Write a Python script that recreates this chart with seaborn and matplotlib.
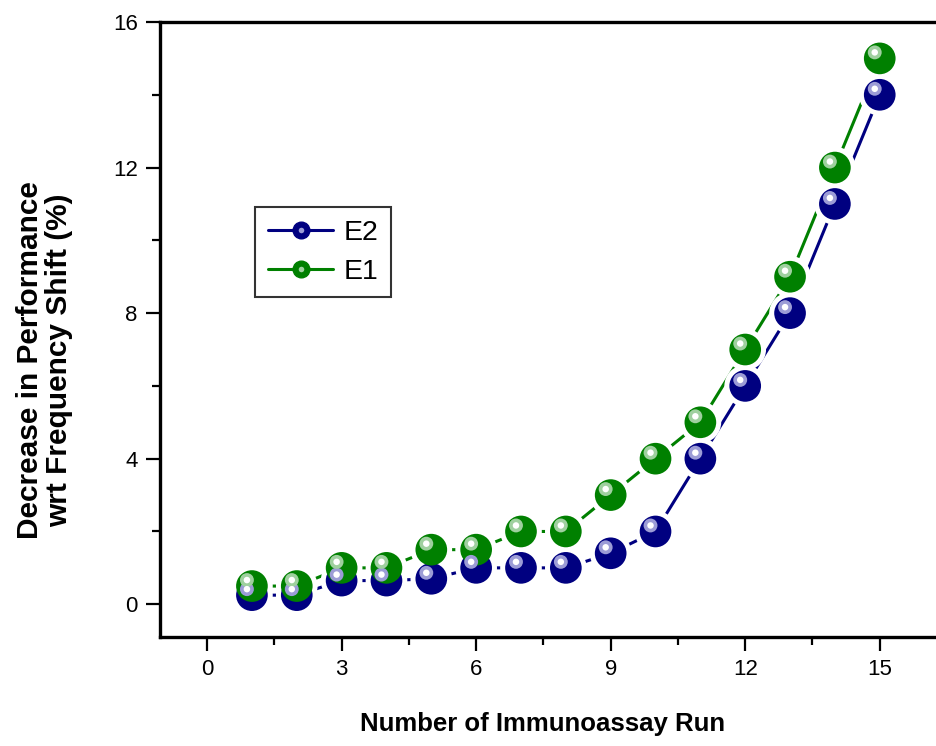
import pandas as pd
import matplotlib.pyplot as plt
import matplotlib.transforms as mtransforms
from matplotlib.lines import Line2D
from matplotlib.ticker import MultipleLocator
import seaborn as sns

# Data
runs = list(range(1, 16))
e2_shift = [0.25, 0.25, 0.65, 0.65, 0.7, 1.0, 1.0, 1.0, 1.4, 2.0, 4.0, 6.0, 8.0, 11.0, 14.0]
e1_shift = [0.5, 0.5, 1.0, 1.0, 1.5, 1.5, 2.0, 2.0, 3.0, 4.0, 5.0, 7.0, 9.0, 12.0, 15.0]
series_names = ['E2', 'E1']
series_colors = {'E2': '#000080', 'E1': '#008000'}
highlight_colors = {'E2': '#9c9cd6', 'E1': '#9fd09f'}

df = pd.DataFrame({
    'run': runs * 2,
    'shift': e2_shift + e1_shift,
    'series': ['E2'] * len(runs) + ['E1'] * len(runs),
})

sns.set_style('ticks')
plt.rcParams['font.family'] = ['Liberation Sans', 'DejaVu Sans']
plt.rcParams['text.color'] = 'black'
plt.rcParams['xtick.color'] = 'black'
plt.rcParams['ytick.color'] = 'black'
plt.rcParams['axes.labelcolor'] = 'black'

fig = plt.figure(figsize=(9.37, 7.46), dpi=100)
# right edge of the frame lies outside the picture, as in the reference
ax = fig.add_axes([160 / 937, 109 / 746, 787 / 937, 615 / 746])

# connecting lines
sns.lineplot(data=df, x='run', y='shift', hue='series', palette=series_colors,
             hue_order=series_names, linewidth=2.2, legend=False, ax=ax, zorder=1)

# white halo so lines stop short of the balls
sns.scatterplot(data=df, x='run', y='shift', color='white', s=900,
                edgecolor='none', legend=False, ax=ax, zorder=2)

# the balls with a glossy spot
shine = mtransforms.offset_copy(ax.transData, fig=fig, x=-5, y=6, units='dots')
for name in series_names:
    sub = df[df['series'] == name]
    sns.scatterplot(data=sub, x='run', y='shift', color=series_colors[name], s=520,
                    edgecolor='none', legend=False, ax=ax, zorder=3)
    ax.scatter(sub['run'], sub['shift'], s=100, color=highlight_colors[name],
               edgecolor='none', transform=shine, zorder=4)
    ax.scatter(sub['run'], sub['shift'], s=22, color='white',
               edgecolor='none', transform=shine, zorder=5)

ax.set_xlim(-1.05, 16.5)
ax.set_ylim(-0.9, 16)
ax.xaxis.set_major_locator(MultipleLocator(3))
ax.xaxis.set_minor_locator(MultipleLocator(1.5))
ax.yaxis.set_major_locator(MultipleLocator(4))
ax.yaxis.set_minor_locator(MultipleLocator(2))
ax.tick_params(which='major', direction='out', length=10, width=1.6, labelsize=16, pad=6)
ax.tick_params(which='minor', direction='out', length=6, width=1.6)

for side in ['left', 'bottom', 'top']:
    ax.spines[side].set_linewidth(2.4)
    ax.spines[side].set_color('black')
ax.spines['right'].set_visible(False)

ax.set_xlabel('Number of Immunoassay Run', fontsize=18.5, fontweight='bold')
ax.xaxis.set_label_coords((543 - 160) / 787, (637 - 712) / 615)
ax.set_ylabel('')
fig.text(45 / 937, 1 - 360 / 746, 'Decrease in Performance\nwrt Frequency Shift (%)',
         rotation=90, ha='center', va='center', multialignment='center',
         fontsize=21.5, fontweight='bold', linespacing=1.05)

handles = [(Line2D([], [], color=series_colors[n], lw=2.2, marker='o', markersize=12,
                   markerfacecolor=series_colors[n], markeredgecolor=series_colors[n]),
            Line2D([], [], ls='none', marker='o', markersize=4,
                   markerfacecolor=highlight_colors[n], markeredgecolor='none'))
           for n in series_names]
leg = fig.legend(handles, series_names, loc='upper left',
                 bbox_to_anchor=(255 / 937, 1 - 207 / 746), borderaxespad=0,
                 fontsize=20.5, frameon=True, fancybox=False, edgecolor='black',
                 handlelength=2.3, handletextpad=0.35, borderpad=0.45, labelspacing=0.45)
leg.get_frame().set_linewidth(1.5)

fig.savefig('out.png', dpi=100)
